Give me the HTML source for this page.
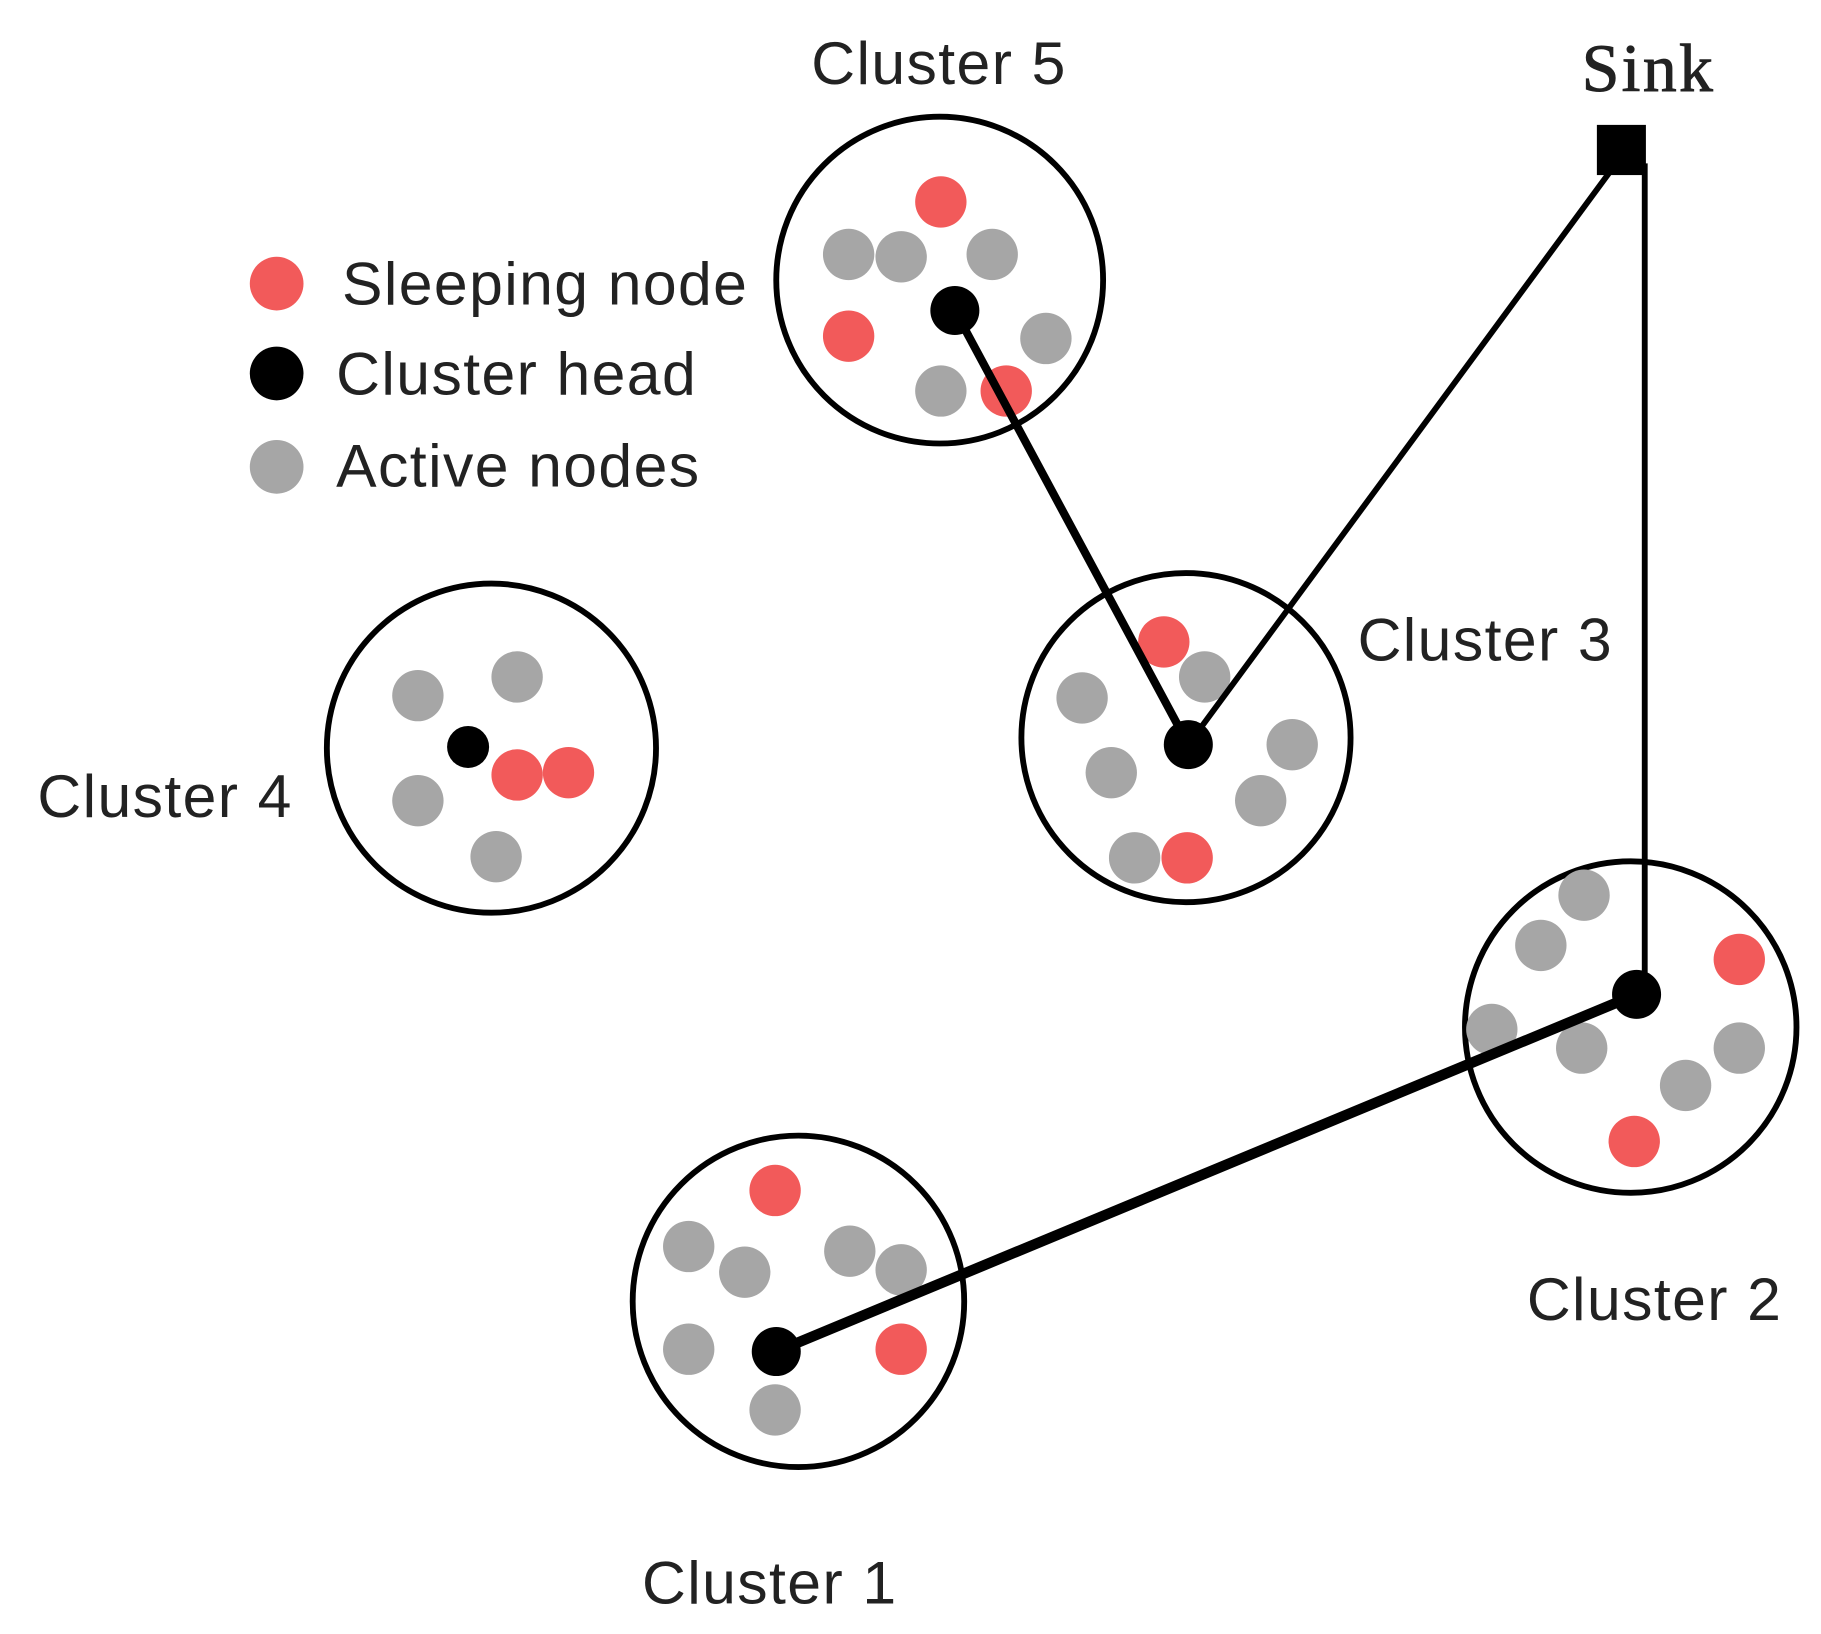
<!DOCTYPE html>
<html><head><style>html,body{margin:0;padding:0;background:#fff}svg{display:block}</style></head>
<body>
<svg width="1821" height="1634" viewBox="0 0 1560 1400" preserveAspectRatio="none" xmlns="http://www.w3.org/2000/svg">
<g fill="none" stroke="#000" stroke-width="5">
<circle cx="805" cy="240" r="140"/>
<circle cx="421" cy="641" r="141"/>
<circle cx="1016" cy="632" r="141"/>
<circle cx="1397" cy="880" r="142"/>
<circle cx="684" cy="1115" r="142"/>
</g>
<g fill="#a6a6a6">
<circle cx="727" cy="218" r="22"/><circle cx="772" cy="220" r="22"/><circle cx="850" cy="218" r="22"/><circle cx="896" cy="290" r="22"/><circle cx="806" cy="335" r="22"/>
<circle cx="1032" cy="580" r="22"/><circle cx="927" cy="598" r="22"/><circle cx="1107" cy="638" r="22"/><circle cx="952" cy="662" r="22"/><circle cx="1080" cy="686" r="22"/><circle cx="972" cy="735" r="22"/>
<circle cx="358" cy="596" r="22"/><circle cx="443" cy="580" r="22"/><circle cx="358" cy="686" r="22"/><circle cx="425" cy="734" r="22"/>
<circle cx="1357" cy="767" r="22"/><circle cx="1320" cy="810" r="22"/><circle cx="1278" cy="882" r="22"/><circle cx="1355" cy="898" r="22"/><circle cx="1444" cy="930" r="22"/><circle cx="1490" cy="898" r="22"/>
<circle cx="590" cy="1068" r="22"/><circle cx="638" cy="1090" r="22"/><circle cx="728" cy="1072" r="22"/><circle cx="772" cy="1088" r="22"/><circle cx="590" cy="1156" r="22"/><circle cx="664" cy="1208" r="22"/>
<circle cx="237" cy="400" r="23"/>
</g>
<g fill="#f25a5a">
<circle cx="806" cy="173" r="22"/><circle cx="727" cy="288" r="22"/><circle cx="862" cy="335" r="22"/>
<circle cx="997" cy="550" r="22"/><circle cx="1017" cy="735" r="22"/>
<circle cx="443" cy="664" r="22"/><circle cx="487" cy="662" r="22"/>
<circle cx="1490" cy="822" r="22"/><circle cx="1400" cy="978" r="22"/>
<circle cx="664" cy="1020" r="22"/><circle cx="772" cy="1156" r="22"/>
<circle cx="237" cy="243" r="23"/>
</g>
<g stroke="#000" fill="none">
<line x1="818" y1="266" x2="1018" y2="638" stroke-width="7"/>
<line x1="1018" y1="638" x2="1383" y2="142" stroke-width="5"/>
<line x1="1409" y1="140" x2="1409" y2="852" stroke-width="5"/>
<line x1="1402" y1="852" x2="665" y2="1158" stroke-width="9"/>
</g>
<rect x="1368" y="107" width="42" height="43" fill="#000"/>
<g fill="#000">
<circle cx="818" cy="266" r="21"/><circle cx="1018" cy="638" r="21"/><circle cx="401" cy="640" r="18"/><circle cx="1402" cy="852" r="21"/><circle cx="665" cy="1158" r="21"/>
<circle cx="237" cy="320" r="23"/>
</g>
<g font-family="Liberation Sans, sans-serif" font-size="52" fill="#222" letter-spacing="1.2">
<text x="293" y="261">Sleeping node</text>
<text x="288" y="338">Cluster head</text>
<text x="288" y="417">Active nodes</text>
<text x="695" y="72">Cluster 5</text>
<text x="1163" y="566">Cluster 3</text>
<text x="32" y="700">Cluster 4</text>
<text x="1308" y="1131">Cluster 2</text>
<text x="550" y="1374">Cluster 1</text>
</g>
<text x="1355" y="78" font-family="Liberation Serif, serif" font-size="58" fill="#222" letter-spacing="2" stroke="#222" stroke-width="0.8">Sink</text>
</svg>
</body></html>
